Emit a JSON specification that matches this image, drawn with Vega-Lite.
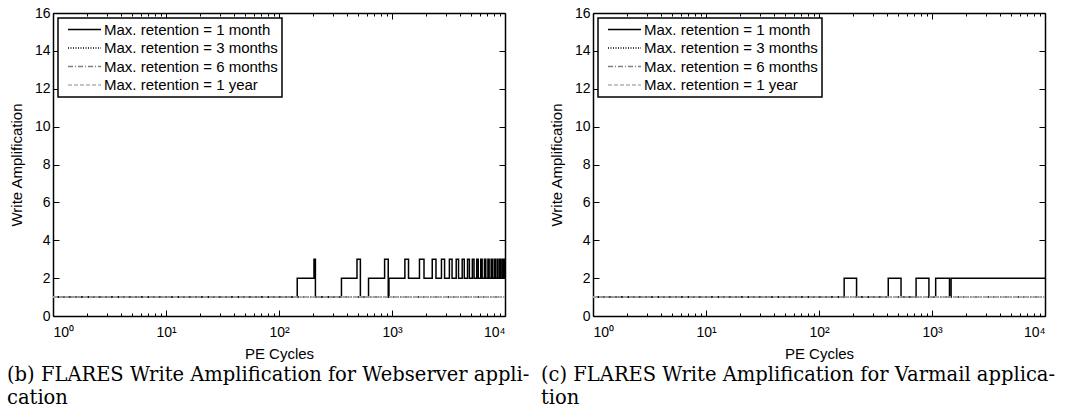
{
  "$schema": "https://vega.github.io/schema/vega-lite/v6.json",
  "background": "white",
  "padding": {"left": 7, "top": 6, "right": 5, "bottom": 2},
  "datasets": {
    "web": [
      {"x": 1, "y": 1, "series": "Max. retention = 1 month"},
      {"x": 145, "y": 2, "series": "Max. retention = 1 month"},
      {"x": 204, "y": 3, "series": "Max. retention = 1 month"},
      {"x": 210, "y": 1, "series": "Max. retention = 1 month"},
      {"x": 357, "y": 2, "series": "Max. retention = 1 month"},
      {"x": 490, "y": 3, "series": "Max. retention = 1 month"},
      {"x": 525, "y": 1, "series": "Max. retention = 1 month"},
      {"x": 620, "y": 2, "series": "Max. retention = 1 month"},
      {"x": 860, "y": 3, "series": "Max. retention = 1 month"},
      {"x": 926, "y": 1, "series": "Max. retention = 1 month"},
      {"x": 940, "y": 2, "series": "Max. retention = 1 month"},
      {"x": 1300, "y": 3, "series": "Max. retention = 1 month"},
      {"x": 1400, "y": 2, "series": "Max. retention = 1 month"},
      {"x": 1750, "y": 3, "series": "Max. retention = 1 month"},
      {"x": 1920, "y": 2, "series": "Max. retention = 1 month"},
      {"x": 2270, "y": 3, "series": "Max. retention = 1 month"},
      {"x": 2450, "y": 2, "series": "Max. retention = 1 month"},
      {"x": 2740, "y": 3, "series": "Max. retention = 1 month"},
      {"x": 2920, "y": 2, "series": "Max. retention = 1 month"},
      {"x": 3220, "y": 3, "series": "Max. retention = 1 month"},
      {"x": 3400, "y": 2, "series": "Max. retention = 1 month"},
      {"x": 3700, "y": 3, "series": "Max. retention = 1 month"},
      {"x": 3880, "y": 2, "series": "Max. retention = 1 month"},
      {"x": 4180, "y": 3, "series": "Max. retention = 1 month"},
      {"x": 4360, "y": 2, "series": "Max. retention = 1 month"},
      {"x": 4660, "y": 3, "series": "Max. retention = 1 month"},
      {"x": 4840, "y": 2, "series": "Max. retention = 1 month"},
      {"x": 5140, "y": 3, "series": "Max. retention = 1 month"},
      {"x": 5320, "y": 2, "series": "Max. retention = 1 month"},
      {"x": 5620, "y": 3, "series": "Max. retention = 1 month"},
      {"x": 5800, "y": 2, "series": "Max. retention = 1 month"},
      {"x": 6100, "y": 3, "series": "Max. retention = 1 month"},
      {"x": 6280, "y": 2, "series": "Max. retention = 1 month"},
      {"x": 6580, "y": 3, "series": "Max. retention = 1 month"},
      {"x": 6760, "y": 2, "series": "Max. retention = 1 month"},
      {"x": 7060, "y": 3, "series": "Max. retention = 1 month"},
      {"x": 7240, "y": 2, "series": "Max. retention = 1 month"},
      {"x": 7540, "y": 3, "series": "Max. retention = 1 month"},
      {"x": 7720, "y": 2, "series": "Max. retention = 1 month"},
      {"x": 8020, "y": 3, "series": "Max. retention = 1 month"},
      {"x": 8200, "y": 2, "series": "Max. retention = 1 month"},
      {"x": 8500, "y": 3, "series": "Max. retention = 1 month"},
      {"x": 8680, "y": 2, "series": "Max. retention = 1 month"},
      {"x": 8980, "y": 3, "series": "Max. retention = 1 month"},
      {"x": 9160, "y": 2, "series": "Max. retention = 1 month"},
      {"x": 9460, "y": 3, "series": "Max. retention = 1 month"},
      {"x": 9640, "y": 2, "series": "Max. retention = 1 month"},
      {"x": 9900, "y": 3, "series": "Max. retention = 1 month"},
      {"x": 10000, "y": 3, "series": "Max. retention = 1 month"},
      {"x": 1, "y": 1, "series": "Max. retention = 3 months"},
      {"x": 10000, "y": 1, "series": "Max. retention = 3 months"},
      {"x": 1, "y": 1, "series": "Max. retention = 6 months"},
      {"x": 10000, "y": 1, "series": "Max. retention = 6 months"},
      {"x": 1, "y": 1, "series": "Max. retention = 1 year"},
      {"x": 10000, "y": 1, "series": "Max. retention = 1 year"}
    ],
    "var": [
      {"x": 1, "y": 1, "series": "Max. retention = 1 month"},
      {"x": 167, "y": 2, "series": "Max. retention = 1 month"},
      {"x": 215, "y": 1, "series": "Max. retention = 1 month"},
      {"x": 410, "y": 2, "series": "Max. retention = 1 month"},
      {"x": 532, "y": 1, "series": "Max. retention = 1 month"},
      {"x": 723, "y": 2, "series": "Max. retention = 1 month"},
      {"x": 939, "y": 1, "series": "Max. retention = 1 month"},
      {"x": 1078, "y": 2, "series": "Max. retention = 1 month"},
      {"x": 1428, "y": 1, "series": "Max. retention = 1 month"},
      {"x": 1476, "y": 2, "series": "Max. retention = 1 month"},
      {"x": 10000, "y": 2, "series": "Max. retention = 1 month"},
      {"x": 1, "y": 1, "series": "Max. retention = 3 months"},
      {"x": 10000, "y": 1, "series": "Max. retention = 3 months"},
      {"x": 1, "y": 1, "series": "Max. retention = 6 months"},
      {"x": 10000, "y": 1, "series": "Max. retention = 6 months"},
      {"x": 1, "y": 1, "series": "Max. retention = 1 year"},
      {"x": 10000, "y": 1, "series": "Max. retention = 1 year"}
    ]
  },
  "hconcat": [
    {
      "width": 452,
      "height": 303,
      "data": {"name": "web"},
      "title": {"text": ["(b) FLARES Write Amplification for Webserver appli-", "cation"], "orient": "bottom", "anchor": "start", "frame": "group", "dx": -46, "offset": 5},
      "layer": [
        {
          "mark": {"type": "line", "interpolate": "step-after", "strokeWidth": 1.5},
          "encoding": {
            "x": {"field": "x", "type": "quantitative", "scale": {"type": "log", "domain": [1, 10000], "nice": false},
              "axis": {"orient": "bottom", "title": "PE Cycles", "values": [1, 10, 100, 1000, 10000], "tickSize": -6,
                "labelExpr": "datum.value == 1 ? '10⁰' : datum.value == 10 ? '10¹' : datum.value == 100 ? '10²' : datum.value == 1000 ? '10³' : '10⁴'"}},
            "y": {"field": "y", "type": "quantitative", "scale": {"domain": [0, 16], "nice": false},
              "axis": {"orient": "left", "title": "Write Amplification", "values": [0, 2, 4, 6, 8, 10, 12, 14, 16], "tickSize": -6}},
            "color": {"field": "series", "type": "nominal",
              "scale": {"domain": ["Max. retention = 1 month", "Max. retention = 3 months", "Max. retention = 6 months", "Max. retention = 1 year"], "range": ["#000000", "#000000", "#808080", "#b4b4b4"]},
              "legend": {"title": null}},
            "strokeDash": {"field": "series", "type": "nominal",
              "scale": {"domain": ["Max. retention = 1 month", "Max. retention = 3 months", "Max. retention = 6 months", "Max. retention = 1 year"], "range": [[1, 0], [1, 1.5], [5, 2, 1, 2], [4, 2]]},
              "legend": {"title": null}}
          }
        },
        {
          "mark": {"type": "point", "opacity": 0},
          "encoding": {
            "x": {"field": "x", "type": "quantitative", "axis": {"orient": "bottom", "title": null, "labels": false, "domain": false, "tickSize": -3,
              "values": [2,3,4,5,6,7,8,9,20,30,40,50,60,70,80,90,200,300,400,500,600,700,800,900,2000,3000,4000,5000,6000,7000,8000,9000]}},
            "y": {"field": "y", "type": "quantitative", "axis": {"orient": "right", "title": null, "labels": false, "values": [0, 2, 4, 6, 8, 10, 12, 14, 16], "tickSize": -6}}
          }
        },
        {
          "mark": {"type": "point", "opacity": 0},
          "encoding": {
            "x": {"field": "x", "type": "quantitative", "axis": {"orient": "top", "title": null, "labels": false, "tickSize": -6, "values": [1, 10, 100, 1000, 10000]}}
          }
        },
        {
          "mark": {"type": "point", "opacity": 0},
          "encoding": {
            "x": {"field": "x", "type": "quantitative", "axis": {"orient": "top", "title": null, "labels": false, "domain": false, "tickSize": -3,
              "values": [2,3,4,5,6,7,8,9,20,30,40,50,60,70,80,90,200,300,400,500,600,700,800,900,2000,3000,4000,5000,6000,7000,8000,9000]}}
          }
        }
      ],
      "resolve": {"axis": {"x": "independent", "y": "independent"}}
    },
    {
      "width": 452,
      "height": 303,
      "data": {"name": "var"},
      "title": {"text": ["(c) FLARES Write Amplification for Varmail applica-", "tion"], "orient": "bottom", "anchor": "start", "frame": "group", "dx": -52, "offset": 5},
      "layer": [
        {
          "mark": {"type": "line", "interpolate": "step-after", "strokeWidth": 1.5},
          "encoding": {
            "x": {"field": "x", "type": "quantitative", "scale": {"type": "log", "domain": [1, 10000], "nice": false},
              "axis": {"orient": "bottom", "title": "PE Cycles", "values": [1, 10, 100, 1000, 10000], "tickSize": -6,
                "labelExpr": "datum.value == 1 ? '10⁰' : datum.value == 10 ? '10¹' : datum.value == 100 ? '10²' : datum.value == 1000 ? '10³' : '10⁴'"}},
            "y": {"field": "y", "type": "quantitative", "scale": {"domain": [0, 16], "nice": false},
              "axis": {"orient": "left", "title": "Write Amplification", "values": [0, 2, 4, 6, 8, 10, 12, 14, 16], "tickSize": -6}},
            "color": {"field": "series", "type": "nominal",
              "scale": {"domain": ["Max. retention = 1 month", "Max. retention = 3 months", "Max. retention = 6 months", "Max. retention = 1 year"], "range": ["#000000", "#000000", "#808080", "#b4b4b4"]},
              "legend": {"title": null}},
            "strokeDash": {"field": "series", "type": "nominal",
              "scale": {"domain": ["Max. retention = 1 month", "Max. retention = 3 months", "Max. retention = 6 months", "Max. retention = 1 year"], "range": [[1, 0], [1, 1.5], [5, 2, 1, 2], [4, 2]]},
              "legend": {"title": null}}
          }
        },
        {
          "mark": {"type": "point", "opacity": 0},
          "encoding": {
            "x": {"field": "x", "type": "quantitative", "axis": {"orient": "bottom", "title": null, "labels": false, "domain": false, "tickSize": -3,
              "values": [2,3,4,5,6,7,8,9,20,30,40,50,60,70,80,90,200,300,400,500,600,700,800,900,2000,3000,4000,5000,6000,7000,8000,9000]}},
            "y": {"field": "y", "type": "quantitative", "axis": {"orient": "right", "title": null, "labels": false, "values": [0, 2, 4, 6, 8, 10, 12, 14, 16], "tickSize": -6}}
          }
        },
        {
          "mark": {"type": "point", "opacity": 0},
          "encoding": {
            "x": {"field": "x", "type": "quantitative", "axis": {"orient": "top", "title": null, "labels": false, "tickSize": -6, "values": [1, 10, 100, 1000, 10000]}}
          }
        },
        {
          "mark": {"type": "point", "opacity": 0},
          "encoding": {
            "x": {"field": "x", "type": "quantitative", "axis": {"orient": "top", "title": null, "labels": false, "domain": false, "tickSize": -3,
              "values": [2,3,4,5,6,7,8,9,20,30,40,50,60,70,80,90,200,300,400,500,600,700,800,900,2000,3000,4000,5000,6000,7000,8000,9000]}}
          }
        }
      ],
      "resolve": {"axis": {"x": "independent", "y": "independent"}}
    }
  ],
  "spacing": 88,
  "bounds": "flush",
  "resolve": {"legend": {"color": "independent", "strokeDash": "independent"}},
  "config": {
    "font": "Liberation Sans",
    "view": {"stroke": null},
    "axis": {
      "grid": false,
      "domainColor": "black",
      "domainWidth": 1.5,
      "tickColor": "black",
      "tickWidth": 1,
      "labelColor": "black",
      "labelFont": "Liberation Sans",
      "labelFontSize": 14,
      "labelPadding": 9,
      "titleColor": "black",
      "titleFont": "Liberation Sans",
      "titleFontSize": 15,
      "titleFontWeight": "normal",
      "titlePadding": 3
    },
    "axisX": {"labelPadding": 15, "titlePadding": 7},
    "axisY": {"titlePadding": 10},
    "legend": {
      "orient": "top-left",
      "offset": 5,
      "strokeColor": "black",
      "strokeWidth": 1.5,
      "fillColor": "white",
      "padding": 4,
      "cornerRadius": 0,
      "clipHeight": 15,
      "symbolType": "stroke",
      "symbolSize": 1089,
      "symbolOffset": 5,
      "symbolStrokeWidth": 1.3,
      "labelFont": "Liberation Sans",
      "labelFontSize": 15,
      "labelColor": "black",
      "labelLimit": 400,
      "labelOffset": 2,
      "rowPadding": 2.5
    },
    "title": {
      "font": "DejaVu Serif",
      "fontSize": 19.5,
      "fontWeight": "normal",
      "color": "black",
      "lineHeight": 23
    }
  }
}
